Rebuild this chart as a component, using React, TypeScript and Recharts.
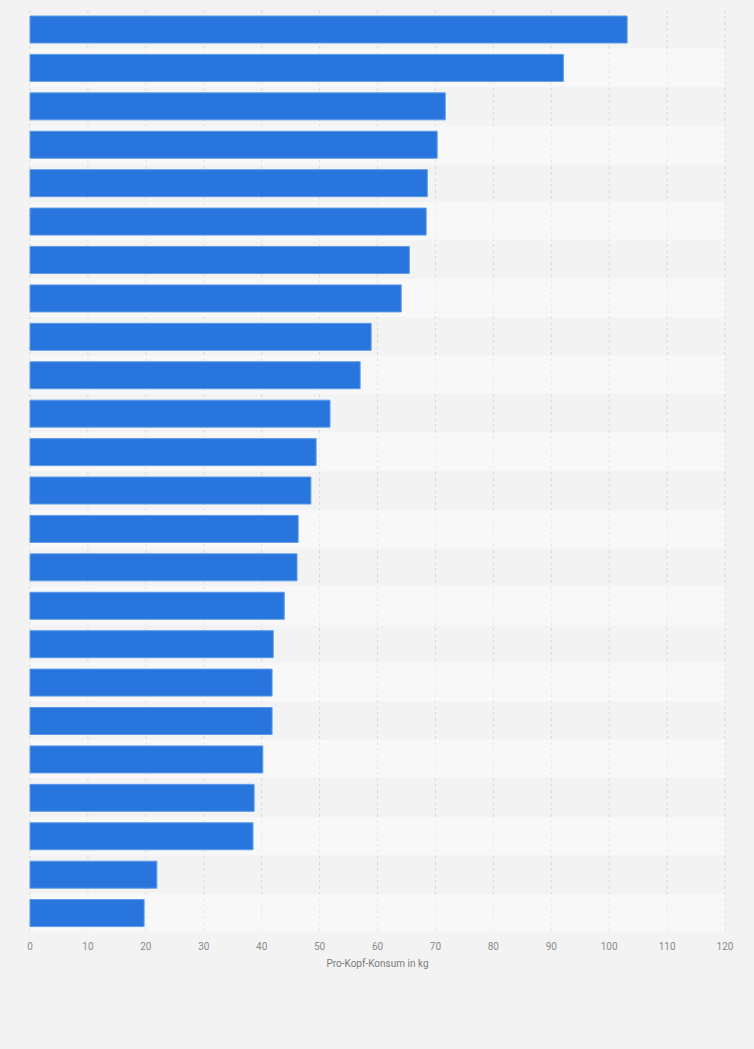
import { BarChart, Bar, XAxis, YAxis, CartesianGrid, ReferenceArea } from 'recharts';

const categories = [
  'R1', 'R2', 'R3', 'R4', 'R5', 'R6', 'R7', 'R8', 'R9', 'R10', 'R11', 'R12',
  'R13', 'R14', 'R15', 'R16', 'R17', 'R18', 'R19', 'R20', 'R21', 'R22', 'R23', 'R24',
];

const values = [
  103.1, 92.1, 71.7, 70.3, 68.6, 68.4, 65.5, 64.1, 58.9, 57.0, 51.8, 49.4,
  48.5, 46.3, 46.1, 43.9, 42.0, 41.8, 41.8, 40.2, 38.7, 38.5, 21.9, 19.7,
];

const xTicks = [0, 10, 20, 30, 40, 50, 60, 70, 80, 90, 100, 110, 120];

const data = categories.map((name, i) => ({ name, value: values[i] }));

export default function App() {
  return (
    <div
      style={{
        position: 'absolute',
        top: 0,
        left: 0,
        width: 754,
        height: 1049,
        background: '#f3f3f3',
        fontFamily: 'Roboto, Arial, sans-serif',
      }}
    >
      <BarChart
        width={754}
        height={1049}
        data={data}
        layout="vertical"
        margin={{ top: 10, right: 29, bottom: 57, left: 30 }}
        barSize={27}
      >
        {categories.map((c, i) =>
          i % 2 === 1 ? (
            <ReferenceArea
              key={c}
              y1={c}
              y2={c}
              fill="#ffffff"
              fillOpacity={0.45}
              stroke="none"
            />
          ) : null,
        )}
        <CartesianGrid
          horizontal={false}
          stroke="#d8d8d8"
          strokeDasharray="3 3"
        />
        <XAxis
          type="number"
          domain={[0, 120]}
          ticks={xTicks}
          interval={0}
          axisLine={false}
          tickLine={false}
          tick={{ fill: '#8a8a8a', fontSize: 10 }}
          tickMargin={5}
          height={60}
          label={{
            value: 'Pro-Kopf-Konsum in kg',
            position: 'insideTop',
            offset: 28,
            fill: '#7a7a7a',
            fontSize: 10,
          }}
        />
        <YAxis
          type="category"
          dataKey="name"
          width={0}
          tick={false}
          tickLine={false}
          axisLine={{ stroke: '#333', strokeWidth: 1 }}
        />
        <Bar
          dataKey="value"
          fill="#2876dd"
          stroke="#5d9be9"
          strokeWidth={1}
          isAnimationActive={false}
        />
      </BarChart>
    </div>
  );
}
